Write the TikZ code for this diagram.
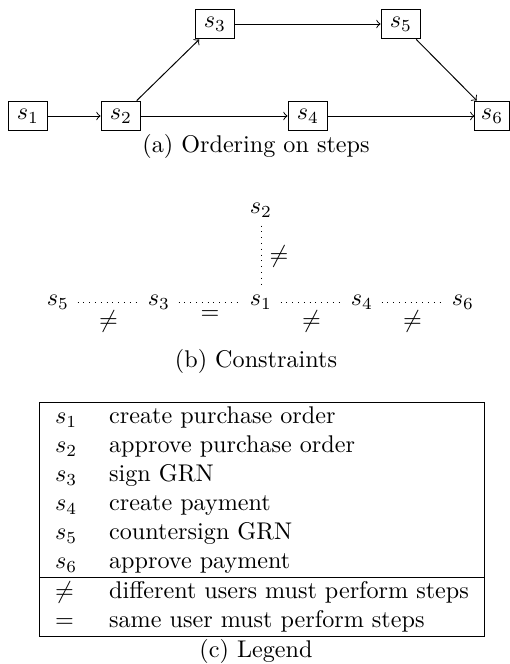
\documentclass[tikz,border=0pt]{standalone}
\begin{document}
\begin{tikzpicture}[x=0.41408pt,y=-0.41408pt,
  stepbox/.style={draw, minimum width=16.5pt, minimum height=12.4pt, inner sep=0pt},
  cnode/.style={inner sep=3.333pt},
  cedge/.style={dotted},
  ordarrow/.style={->},
  caption/.style={anchor=base, inner sep=0pt}]
\useasboundingbox (0,0) rectangle (510,664);
% (a) ordering
\node[stepbox] (a1) at (28,116) {$s_1$};
\node[stepbox] (a2) at (121,116) {$s_2$};
\node[stepbox] (a3) at (215,24) {$s_3$};
\node[stepbox] (a4) at (308,116) {$s_4$};
\node[stepbox] (a5) at (401,24) {$s_5$};
\node[stepbox, minimum width=14.1pt] (a6) at (492,116) {$s_6$\hspace{-2.5pt}};
\draw[ordarrow] (a1) -- (a2);
\draw[ordarrow] (a2) -- (a3);
\draw[ordarrow] (a2) -- (a4);
\draw[ordarrow] (a3) -- (a5);
\draw[ordarrow] (a4) -- (a6);
\draw[ordarrow] (a5) -- (a6);
\node[caption] (capa) at (256,152) {(a) Ordering on steps};
% (b) constraints
\node[cnode] (c2) at (261,210) {$s_2$};
\node[cnode] (c5) at (58,302) {$s_5$};
\node[cnode] (c3) at (159,302) {$s_3$};
\node[cnode] (c1) at (261,302) {$s_1$};
\node[cnode] (c4) at (362,302) {$s_4$};
\node[cnode] (c6) at (463,302) {$s_6$};
\draw[cedge] (c2) -- node[right] (l21) {$\neq$} (c1);
\draw[cedge] (c5) -- node[below] (l53) {$\neq$} (c3);
\draw[cedge] (c3) -- node[below] (l31) {$=$} (c1);
\draw[cedge] (c1) -- node[below] (l14) {$\neq$} (c4);
\draw[cedge] (c4) -- node[below] (l46) {$\neq$} (c6);
\node[caption] (capb) at (256,367) {(b) Constraints};
% (c) legend
\setlength{\tabcolsep}{6.6pt}
\node[anchor=north, inner sep=0pt] (legend) at (262,402) {%
\begin{tabular}{|ll|}\hline
$s_1$ & create purchase order\\
$s_2$ & approve purchase order\\
$s_3$ & sign GRN\\
$s_4$ & create payment\\
$s_5$ & countersign GRN\\
$s_6$ & approve payment\\\hline
$\neq$ & different users must perform steps\\
$=$ & same user must perform steps\\\hline
\end{tabular}};
\node[caption] (capc) at (256,657) {(c) Legend};
\end{tikzpicture}
\end{document}
